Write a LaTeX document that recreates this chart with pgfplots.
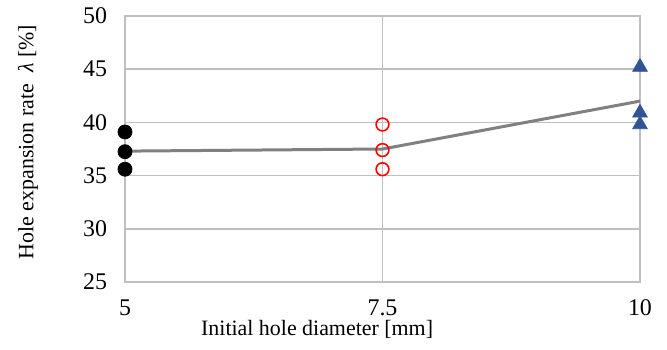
\documentclass[border=0pt]{standalone}
\usepackage{fontspec}
\setmainfont{Liberation Serif}
\usepackage{pgfplots}
\pgfplotsset{compat=1.18}
\definecolor{gridc}{RGB}{191,191,191}
\definecolor{linec}{RGB}{128,128,128}
\definecolor{tri}{RGB}{47,85,151}
\begin{document}
\begin{tikzpicture}
\begin{axis}[
  scale only axis,
  width=257.5bp, height=133bp,
  xmin=5, xmax=10, ymin=25, ymax=50,
  xtick={5,7.5,10}, xticklabels={5,7.5,10},
  ytick={25,30,35,40,45,50},
  /pgf/number format/assume math mode=true,
  tick label style={font=\fontsize{12}{14}\selectfont},
  xticklabel style={yshift=-5.5bp},
  yticklabel style={xshift=-5.5bp},
  major tick length=0pt,
  grid=major,
  major grid style={gridc, line width=0.8bp},
  axis line style={gridc, line width=0.8bp},
  xlabel={Initial hole diameter [mm]},
  ylabel={Hole expansion rate\ \ \textit{λ} [\%]},
  label style={font=\fontsize{11}{13}\selectfont},
  xlabel style={at={(rel axis cs:0.373,0)}, anchor=center, yshift=-23.5bp},
  ylabel style={at={([xshift=-48.5bp]rel axis cs:0,0.526)}, anchor=center},
  clip=false,
]
\coordinate (sw) at (rel axis cs:0,0);
\addplot[linec, line width=1.5bp, no marks] coordinates {(5,37.3) (7.5,37.5) (10,42.0)};
\addplot[only marks, mark=*, mark size=3.5bp, black] coordinates {(5,39.1) (5,37.25) (5,35.6)};
\addplot[only marks, mark=o, mark size=3.2bp, red, line width=0.8bp] coordinates {(7.5,39.8) (7.5,37.4) (7.5,35.6)};
\addplot[only marks, mark=triangle*, mark size=4.2bp, tri] coordinates {(10,45.2) (10,40.9) (10,39.8)};
\end{axis}
\pgfresetboundingbox
\path[use as bounding box] (sw) ++(-62.5bp,-34bp) rectangle ++(333.5bp,175bp);
\end{tikzpicture}
\end{document}
